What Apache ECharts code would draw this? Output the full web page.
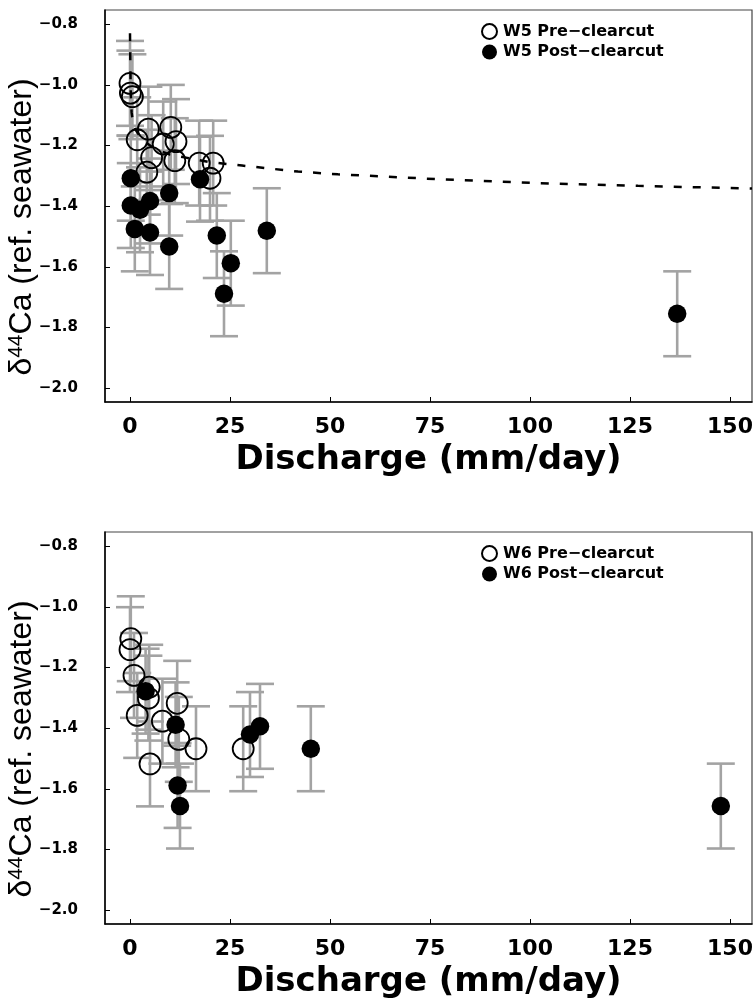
<!DOCTYPE html>
<html>
<head>
<meta charset="utf-8">
<script src="https://cdn.jsdelivr.net/npm/echarts@6/dist/echarts.min.js"></script>
<style>
  html, body { margin: 0; padding: 0; background: #fff; }
  #chart { width: 755px; height: 1000px; }
</style>
</head>
<body>
<div id="chart"></div>
<script>
// Discharge ticks (mm/day) and delta-44Ca ticks (per mil, ref. seawater)
const xTicks = [0, 25, 50, 75, 100, 125, 150];
const yTicks = [-2.0, -1.8, -1.6, -1.4, -1.2, -1.0, -0.8];

// Watershed W5, before clearcut
const w5PreQ = [0.0, 0.1, 0.6, 4.6, 10.2, 1.8, 8.3, 11.5, 5.4, 11.2, 4.2, 17.3, 20.8, 20.0];
const w5PreD = [-0.995, -1.027, -1.039, -1.146, -1.140, -1.181, -1.195, -1.187, -1.240, -1.250, -1.288, -1.258, -1.258, -1.308];
const w5PreErr = [0.14, 0.14, 0.14, 0.14, 0.14, 0.14, 0.14, 0.14, 0.14, 0.14, 0.14, 0.14, 0.14, 0.14];

// Watershed W5, after clearcut
const w5PostQ = [0.2, 0.2, 2.5, 5.0, 1.2, 5.0, 9.8, 9.8, 17.5, 21.7, 25.2, 23.5, 34.2, 136.8];
const w5PostD = [-1.308, -1.398, -1.412, -1.383, -1.475, -1.487, -1.357, -1.533, -1.311, -1.497, -1.588, -1.689, -1.481, -1.755];
const w5PostErr = [0.14, 0.14, 0.14, 0.14, 0.14, 0.14, 0.14, 0.14, 0.14, 0.14, 0.14, 0.14, 0.14, 0.14];

// Mixing curve through the W5 pre-clearcut samples
const curveQ = [0.0, 0.1, 0.2, 0.4, 0.7, 1.5, 3, 6, 10, 14, 20, 28, 42, 52, 77, 102, 127, 155.5];
const curveD = [-0.83, -0.95, -1.03, -1.09, -1.12, -1.15, -1.18, -1.21, -1.23, -1.24, -1.255, -1.266, -1.286, -1.295, -1.311, -1.324, -1.333, -1.342];

// Watershed W6, before clearcut
const w6PreQ = [0.2, 0.0, 1.0, 4.8, 4.6, 1.8, 8.1, 11.8, 12.2, 16.5, 5.0, 28.3];
const w6PreD = [-1.105, -1.141, -1.226, -1.265, -1.301, -1.358, -1.377, -1.318, -1.437, -1.468, -1.518, -1.468];
const w6PreErr = [0.14, 0.14, 0.14, 0.14, 0.14, 0.14, 0.14, 0.14, 0.14, 0.14, 0.14, 0.14];

// Watershed W6, after clearcut
const w6PostQ = [3.9, 11.4, 11.9, 12.5, 30.0, 32.5, 45.2, 147.7];
const w6PostD = [-1.278, -1.389, -1.589, -1.657, -1.421, -1.394, -1.468, -1.657];
const w6PostErr = [0.14, 0.14, 0.14, 0.14, 0.14, 0.14, 0.14, 0.14];

const BOLD_FONT = "'DejaVu Sans', 'Liberation Sans', Arial, sans-serif";
const TITLE_FONT = "'Liberation Sans', Arial, Helvetica, sans-serif";
const BAR_GREY = '#a3a3a3';

const pts = (q, d) => q.map((v, i) => [v, d[i]]);
const bars = (q, d, e) => q.map((v, i) => [v, d[i], e[i]]);

function renderErrorBar(params, api) {
  const x = api.value(0), y = api.value(1), e = api.value(2);
  const top = api.coord([x, y + e]);
  const bot = api.coord([x, y - e]);
  const hw = 14;
  const st = { stroke: BAR_GREY, lineWidth: 2.6 };
  return {
    type: 'group',
    children: [
      { type: 'line', shape: { x1: top[0], y1: top[1], x2: bot[0], y2: bot[1] }, style: st },
      { type: 'line', shape: { x1: top[0] - hw, y1: top[1], x2: top[0] + hw, y2: top[1] }, style: st },
      { type: 'line', shape: { x1: bot[0] - hw, y1: bot[1], x2: bot[0] + hw, y2: bot[1] }, style: st }
    ]
  };
}

function errorSeries(idx, data) {
  return {
    type: 'custom', xAxisIndex: idx, yAxisIndex: idx, data: data,
    renderItem: renderErrorBar, encode: { x: 0, y: 1 }, silent: true, z: 1
  };
}

const openStyle = { color: 'rgba(255,255,255,0)', borderColor: '#000', borderWidth: 1.8, opacity: 1 };
const fillStyle = { color: '#000', borderColor: '#000', borderWidth: 0, opacity: 1 };

function scatter(name, idx, data, open) {
  return {
    name: name, type: 'scatter', xAxisIndex: idx, yAxisIndex: idx, data: data,
    symbol: 'circle', symbolSize: open ? 21 : 18.5,
    itemStyle: open ? openStyle : fillStyle,
    emphasis: { disabled: true }, silent: true, z: open ? 3 : 4
  };
}

function xAxis(idx) {
  return {
    type: 'value', gridIndex: idx, min: -6.25, max: 155.5,
    name: 'Discharge (mm/day)', nameLocation: 'middle', nameGap: 41, nameMoveOverlap: false,
    nameTextStyle: { fontFamily: BOLD_FONT, fontWeight: 'bold', fontSize: 34, color: '#000' },
    axisLine: { show: true, onZero: false, lineStyle: { color: '#000', width: 1.5 } },
    axisTick: { show: true, inside: true, length: 5, customValues: xTicks, lineStyle: { color: '#000', width: 1 } },
    axisLabel: { customValues: xTicks, margin: 14, fontFamily: BOLD_FONT, fontWeight: 'bold', fontSize: 22, color: '#000' },
    splitLine: { show: false }
  };
}

function yAxis(idx) {
  return {
    type: 'value', gridIndex: idx, min: -2.046, max: -0.753,
    name: '{d|δ}{s|44}{d|Ca (ref. seawater)}', nameLocation: 'middle', nameRotate: 90,
    nameGap: 67, nameMoveOverlap: false,
    nameTextStyle: {
      color: '#000',
      padding: [0, 42, 0, 0],
      rich: {
        d: { fontFamily: TITLE_FONT, fontSize: 32, color: '#000', lineHeight: 32, verticalAlign: 'bottom' },
        s: { fontFamily: TITLE_FONT, fontSize: 21, color: '#000', lineHeight: 16, verticalAlign: 'top' }
      }
    },
    axisLine: { show: true, onZero: false, lineStyle: { color: '#000', width: 1.5 } },
    axisTick: { show: true, inside: true, length: 5, customValues: yTicks, lineStyle: { color: '#000', width: 1 } },
    axisLabel: {
      customValues: yTicks, margin: 27, fontFamily: BOLD_FONT, fontWeight: 'bold', fontSize: 15, color: '#000',
      formatter: v => (v < 0 ? '\u2212' : '') + Math.abs(v).toFixed(1)
    },
    splitLine: { show: false }
  };
}

function legend(top, names) {
  return {
    data: names, orient: 'vertical', left: 476, top: top, itemGap: 4,
    itemWidth: 15, itemHeight: 15, icon: 'circle', selectedMode: false,
    textStyle: { fontFamily: BOLD_FONT, fontWeight: 'bold', fontSize: 16, lineHeight: 16, color: '#000',
      padding: [0, 0, 0, 1] }
  };
}

const chart = echarts.init(document.getElementById('chart'), null, { renderer: 'canvas' });
chart.setOption({
  animation: false,
  backgroundColor: '#fff',
  grid: [
    { left: 105, right: 3, top: 10, height: 392, show: true, borderColor: '#444', borderWidth: 1.2,
      containLabel: false, outerBoundsMode: 'none' },
    { left: 105, right: 3, top: 532, height: 392, show: true, borderColor: '#444', borderWidth: 1.2,
      containLabel: false, outerBoundsMode: 'none' }
  ],
  xAxis: [xAxis(0), xAxis(1)],
  yAxis: [yAxis(0), yAxis(1)],
  legend: [
    legend(18, ['W5 Pre\u2212clearcut', 'W5 Post\u2212clearcut']),
    legend(540, ['W6 Pre\u2212clearcut', 'W6 Post\u2212clearcut'])
  ],
  series: [
    errorSeries(0, bars(w5PreQ, w5PreD, w5PreErr)),
    errorSeries(0, bars(w5PostQ, w5PostD, w5PostErr)),
    {
      type: 'line', xAxisIndex: 0, yAxisIndex: 0, data: pts(curveQ, curveD),
      showSymbol: false, symbol: 'none', silent: true, z: 2,
      lineStyle: { color: '#000', width: 2.5, type: [8, 11] }
    },
    scatter('W5 Pre\u2212clearcut', 0, pts(w5PreQ, w5PreD), true),
    scatter('W5 Post\u2212clearcut', 0, pts(w5PostQ, w5PostD), false),
    errorSeries(1, bars(w6PreQ, w6PreD, w6PreErr)),
    errorSeries(1, bars(w6PostQ, w6PostD, w6PostErr)),
    scatter('W6 Pre\u2212clearcut', 1, pts(w6PreQ, w6PreD), true),
    scatter('W6 Post\u2212clearcut', 1, pts(w6PostQ, w6PostD), false)
  ]
});
</script>
</body>
</html>
